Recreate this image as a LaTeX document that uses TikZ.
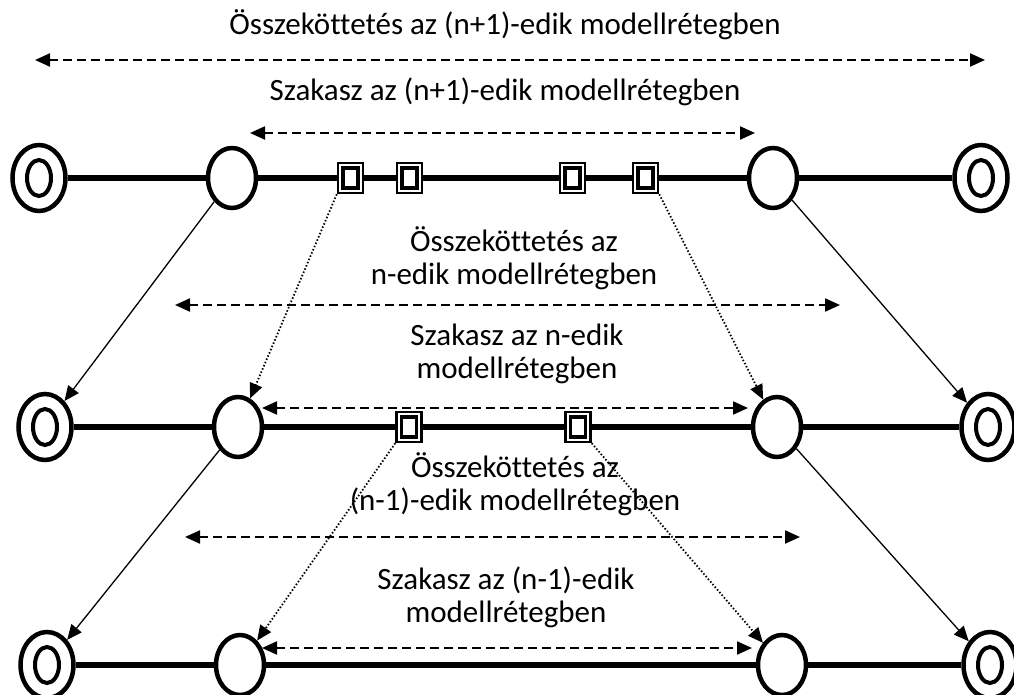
\documentclass[tikz,border=0pt]{standalone}
\usepackage{fontspec}
\setmainfont{Carlito}[Ligatures=CommonOff]
\usetikzlibrary{shapes.geometric,arrows.meta}
\begin{document}
\begin{tikzpicture}[x=1pt, y=-1pt]
    % Define styles
    \tikzset{
        endnode/.style={ellipse, draw, line width=4.5pt, fill=white, inner sep=0pt,
            minimum width=53pt, minimum height=66pt,
            path picture={\draw[line width=4pt] (path picture bounding box.center) ellipse (12pt and 18pt);}},
        hopnode/.style={ellipse, draw, line width=4.5pt, fill=white, inner sep=0pt,
            minimum width=48pt, minimum height=60pt},
        port/.style={rectangle, draw, line width=2.5pt, fill=white, inner sep=0pt,
            minimum width=25pt, minimum height=30pt,
            path picture={\draw[line width=3.5pt] ([shift={(-7.5pt,-10pt)}]path picture bounding box.center) rectangle ++(15pt,20pt);}},
        link/.style={line width=5.5pt},
        tip/.style={-{Triangle[length=15pt, width=13pt]}},
        span/.style={{Triangle[length=15pt, width=13pt]}-{Triangle[length=15pt, width=13pt]}, line width=2.2pt, dash pattern=on 8.5pt off 5.5pt},
        down/.style={tip, line width=1.3pt},
        relay/.style={tip, line width=1.8pt, dash pattern=on 1.5pt off 2pt},
        caption/.style={align=center, font=\fontsize{31}{33}\selectfont}
    }
    \useasboundingbox (0,0) rectangle (1014,695);

    % Layer n+1
    \node[endnode] (e11) at (39,178) {};
    \node[hopnode] (h11) at (232,178) {};
    \node[port] (p11) at (350.5,178) {};
    \node[port] (p12) at (409.5,178) {};
    \node[port] (p13) at (572.5,178) {};
    \node[port] (p14) at (645.5,178) {};
    \node[hopnode] (h12) at (773,178) {};
    \node[endnode] (e12) at (981,178) {};
    \draw[link] (e11) -- (h11) -- (p11) -- (p12) -- (p13) -- (p14) -- (h12) -- (e12);

    % Layer n
    \node[endnode] (e21) at (45,427) {};
    \node[hopnode] (h21) at (238,427) {};
    \node[port] (p21) at (409,427) {};
    \node[port] (p22) at (578,427) {};
    \node[hopnode] (h22) at (777,427) {};
    \node[endnode] (e22) at (988,427) {};
    \draw[link] (e21) -- (h21) -- (p21) -- (p22) -- (h22) -- (e22);

    % Layer n-1
    \node[endnode] (e31) at (47,665) {};
    \node[hopnode] (h31) at (240,665) {};
    \node[hopnode] (h32) at (782,665) {};
    \node[endnode] (e32) at (990,665) {};
    \draw[link] (e31) -- (h31) -- (h32) -- (e32);

    % Mapping between layers
    \draw[down] (h11) -- (e21);
    \draw[down] (h12) -- (e22);
    \draw[down] (h21) -- (e31);
    \draw[down] (h22) -- (e32);
    \draw[relay] (p11.south west) -- (h21);
    \draw[relay] (p14.south east) -- (h22);
    \draw[relay] (p21.south west) -- (h31);
    \draw[relay] (p22.south east) -- (h32);

    % Extent arrows
    \foreach \n/\y/\a/\b in {1/60/35/985, 2/133/250/755, 3/305/175/840,
                             4/408/262/748, 5/537/185/800, 6/648/262/752} {
        \coordinate (sl\n) at (\a,\y);
        \coordinate (sr\n) at (\b,\y);
        \draw[span] (sl\n) -- (sr\n);
    }

    % Labels
    \node[caption] (t1) at (505,25) {Összeköttetés az (n+1)-edik modellrétegben};
    \node[caption] (t2) at (505,92) {Szakasz az (n+1)-edik modellrétegben};
    \node[caption] (t3) at (514,258) {Összeköttetés az\\n-edik modellrétegben};
    \node[caption] (t4) at (517,354) {Szakasz az n-edik\\modellrétegben};
    \node[caption] (t5) at (515,484) {Összeköttetés az\\(n-1)-edik modellrétegben};
    \node[caption] (t6) at (506,597) {Szakasz az (n-1)-edik\\modellrétegben};
\end{tikzpicture}
\end{document}
